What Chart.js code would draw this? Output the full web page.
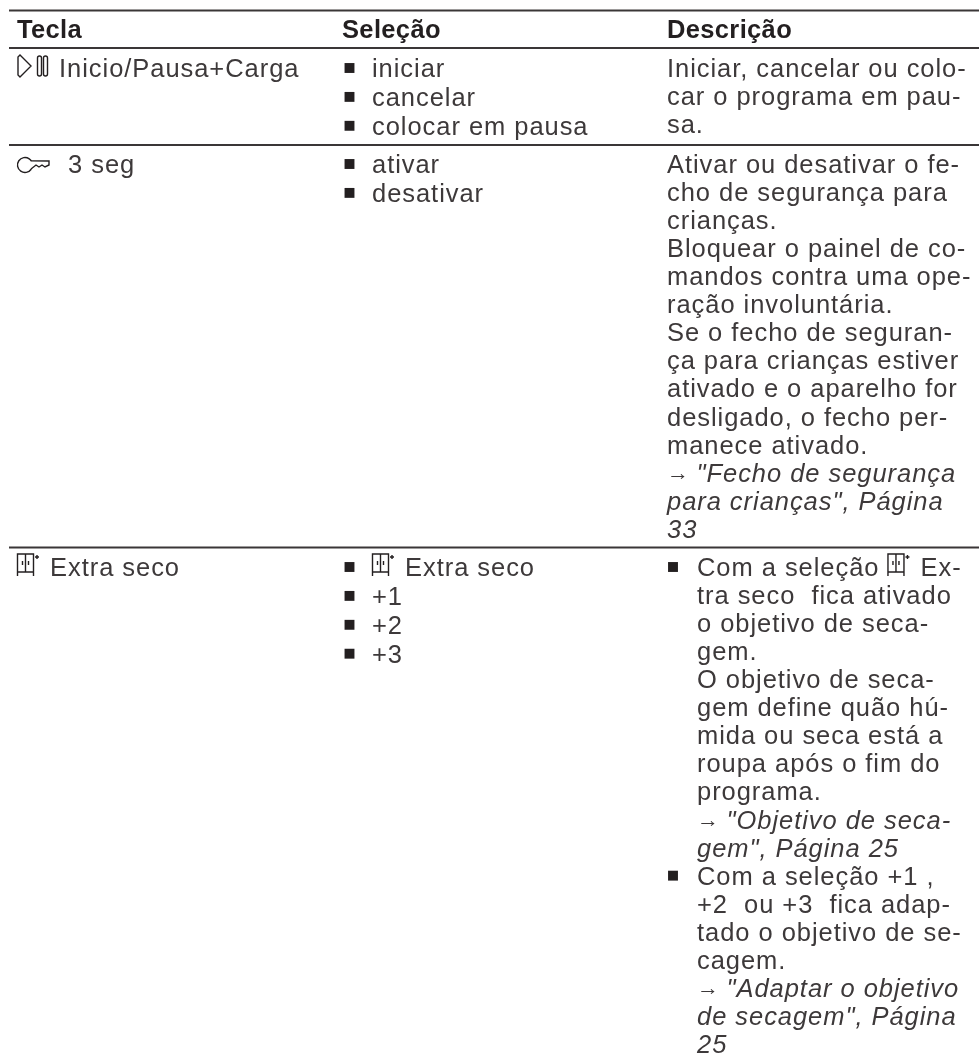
<!DOCTYPE html>
<html>
<head>
<meta charset="utf-8">
<title>Tecla</title>
<script src="https://cdn.jsdelivr.net/npm/chart.js@4"></script>
<style>
  html, body { margin: 0; padding: 0; background: #fff; }
  canvas { display: block; }
</style>
</head>
<body>
<canvas id="tableChart" width="979" height="1059"></canvas>
<script>
// Table content
const headers = ['Tecla', 'Seleção', 'Descrição'];

const teclaLines = [
  ['{play} Inicio/Pausa+Carga'],
  ['{key}  3 seg'],
  ['{extra} Extra seco']
];

const selecaoLines = [
  ['iniciar', 'cancelar', 'colocar em pausa'],
  ['ativar', 'desativar'],
  ['{extra} Extra seco', '+1', '+2', '+3']
];

const descricaoLines = [
  ['Iniciar, cancelar ou colo-', 'car o programa em pau-', 'sa.'],
  [
    'Ativar ou desativar o fe-', 'cho de segurança para', 'crianças.',
    'Bloquear o painel de co-', 'mandos contra uma ope-', 'ração involuntária.',
    'Se o fecho de seguran-', 'ça para crianças estiver', 'ativado e o aparelho for',
    'desligado, o fecho per-', 'manece ativado.',
    '→ "Fecho de segurança', 'para crianças", Página', '33'
  ],
  [
    'Com a seleção {extra} Ex-', 'tra seco  fica ativado', 'o objetivo de seca-', 'gem.',
    'O objetivo de seca-', 'gem define quão hú-', 'mida ou seca está a', 'roupa após o fim do', 'programa.',
    '→ "Objetivo de seca-', 'gem", Página 25',
    'Com a seleção +1 ,', '+2  ou +3  fica adap-', 'tado o objetivo de se-', 'cagem.',
    '→ "Adaptar o objetivo', 'de secagem", Página', '25'
  ]
];

// Which description lines are italic references, and which start a bullet
const referenceLines = [[], [11, 12, 13], [9, 10, 15, 16, 17]];
const descricaoBullets = [[], [], [0, 11]];

// Layout
const colors = { text: '#3d393a', head: '#231f20', rule: '#3a3637' };
const columnX = [17, 342, 667];
const bulletX = { selecao: 349.5, descricao: 673 };
const textX = { selecao: 372, descricao: 667, descricaoIndented: 697 };
const ruleTop = 10.5, ruleHead = 48;
const ruleRows = [145, 547.5];
const ruleLeft = 9, ruleRight = 979;
const headBaseline = 38;
const rowBaseline = [77, 173, 576];
const selecaoPitch = 28.9;
const descricaoPitch = 28.06;
const bodyFont = '25.5px "Liberation Sans"';
const italicFont = 'italic 25.5px "Liberation Sans"';
const arrowFont = '22px "Liberation Sans"';
const headFont = 'bold 25.5px "Liberation Sans"';
const bodySpacing = '0.95px';
const headSpacing = '0.35px';

const ruleSets = [ruleTop, ruleHead, ...ruleRows].map(y => ({
  type: 'line',
  data: [{ x: ruleLeft, y }, { x: ruleRight, y }],
  borderColor: colors.rule,
  borderWidth: 2,
  pointRadius: 0
}));

// Bullets go through the chart as scatter points
const bulletPoints = [];
selecaoLines.forEach((lines, r) => lines.forEach((_, i) => {
  bulletPoints.push({ x: bulletX.selecao, y: rowBaseline[r] + i * selecaoPitch - 9 });
}));
descricaoBullets.forEach((list, r) => list.forEach(i => {
  bulletPoints.push({ x: bulletX.descricao, y: rowBaseline[r] + i * descricaoPitch - 9 });
}));

function drawIcon(ctx, name, x, base) {
  ctx.save();
  ctx.strokeStyle = colors.head;
  ctx.lineWidth = 1.4;
  ctx.beginPath();
  if (name === 'play') {
    ctx.moveTo(x + 1, base - 20);
    ctx.lineTo(x + 3, base - 22);
    ctx.lineTo(x + 14, base - 11);
    ctx.lineTo(x + 3, base);
    ctx.lineTo(x + 1, base - 2);
    ctx.closePath();
    ctx.roundRect(x + 20.5, base - 21, 4, 20, 2);
    ctx.roundRect(x + 26.5, base - 21, 4, 20, 2);
    ctx.stroke();
  } else if (name === 'key') {
    ctx.arc(x + 8, base - 8, 7.5, 0.6, Math.PI * 2 - 0.6);
    ctx.lineTo(x + 32, base - 12);
    ctx.lineTo(x + 32, base - 8);
    ctx.lineTo(x + 28, base - 6);
    ctx.lineTo(x + 25, base - 8);
    ctx.lineTo(x + 22, base - 6);
    ctx.lineTo(x + 19, base - 8);
    ctx.lineTo(x + 14, base - 4);
    ctx.stroke();
  } else {
    ctx.rect(x + 0.5, base - 22, 16, 18);
    ctx.moveTo(x + 8.5, base - 22);
    ctx.lineTo(x + 8.5, base - 4);
    ctx.moveTo(x + 0.5, base - 4);
    ctx.lineTo(x + 0.5, base);
    ctx.moveTo(x + 16.5, base - 4);
    ctx.lineTo(x + 16.5, base);
    ctx.moveTo(x + 5.5, base - 15);
    ctx.lineTo(x + 5.5, base - 11);
    ctx.moveTo(x + 11.5, base - 15);
    ctx.lineTo(x + 11.5, base - 11);
    ctx.moveTo(x + 18, base - 19);
    ctx.lineTo(x + 22, base - 19);
    ctx.moveTo(x + 20, base - 21);
    ctx.lineTo(x + 20, base - 17);
    ctx.stroke();
  }
  ctx.restore();
}

const iconWidth = { play: 34, key: 35, extra: 25 };

function drawLine(ctx, text, x, base, italic) {
  // the arrow stays upright in references
  if (text.startsWith('→')) {
    ctx.font = arrowFont;
    ctx.fillText('→', x, base - 2);
    x += 29.5;
    text = text.slice(2);
  }
  ctx.font = italic ? italicFont : bodyFont;
  text.split(/(\{\w+\})/).forEach(part => {
    const icon = part.match(/^\{(\w+)\}$/);
    if (icon) {
      drawIcon(ctx, icon[1], x, base);
      x += iconWidth[icon[1]];
    } else if (part) {
      ctx.fillText(part, x, base);
      x += ctx.measureText(part).width;
    }
  });
}

const tableText = {
  id: 'tableText',
  afterDatasetsDraw(chart) {
    const { ctx, scales: { x: sx, y: sy } } = chart;
    ctx.save();
    ctx.textBaseline = 'alphabetic';
    ctx.fillStyle = colors.head;
    ctx.font = headFont;
    ctx.letterSpacing = headSpacing;
    headers.forEach((h, c) => ctx.fillText(h, sx.getPixelForValue(columnX[c]), sy.getPixelForValue(headBaseline)));

    ctx.fillStyle = colors.text;
    ctx.letterSpacing = bodySpacing;
    rowBaseline.forEach((rowBase, r) => {
      teclaLines[r].forEach((t, i) => {
        drawLine(ctx, t, sx.getPixelForValue(columnX[0]), sy.getPixelForValue(rowBase + i * selecaoPitch));
      });
      selecaoLines[r].forEach((t, i) => {
        drawLine(ctx, t, sx.getPixelForValue(textX.selecao), sy.getPixelForValue(rowBase + i * selecaoPitch));
      });
      const indented = descricaoBullets[r].length > 0;
      descricaoLines[r].forEach((t, i) => {
        const left = indented ? textX.descricaoIndented : textX.descricao;
        const italic = referenceLines[r].includes(i);
        drawLine(ctx, t, sx.getPixelForValue(left), sy.getPixelForValue(rowBase + i * descricaoPitch), italic);
      });
    });
    ctx.restore();
  }
};

new Chart(document.getElementById('tableChart').getContext('2d'), {
  type: 'scatter',
  data: {
    datasets: [
      ...ruleSets,
      {
        data: bulletPoints,
        pointStyle: 'rect',
        pointRadius: 7,
        backgroundColor: colors.head,
        borderWidth: 0
      }
    ]
  },
  options: {
    responsive: false,
    animation: false,
    events: [],
    layout: { padding: 0, autoPadding: false },
    plugins: { legend: { display: false }, tooltip: { enabled: false } },
    scales: {
      x: { type: 'linear', min: 0, max: 979, display: false },
      y: { type: 'linear', min: 0, max: 1059, reverse: true, display: false }
    }
  },
  plugins: [
    tableText,
    { id: 'whiteBackground', beforeDraw(chart) {
      chart.ctx.fillStyle = '#fff';
      chart.ctx.fillRect(0, 0, chart.width, chart.height);
    } }
  ]
});
</script>
</body>
</html>
